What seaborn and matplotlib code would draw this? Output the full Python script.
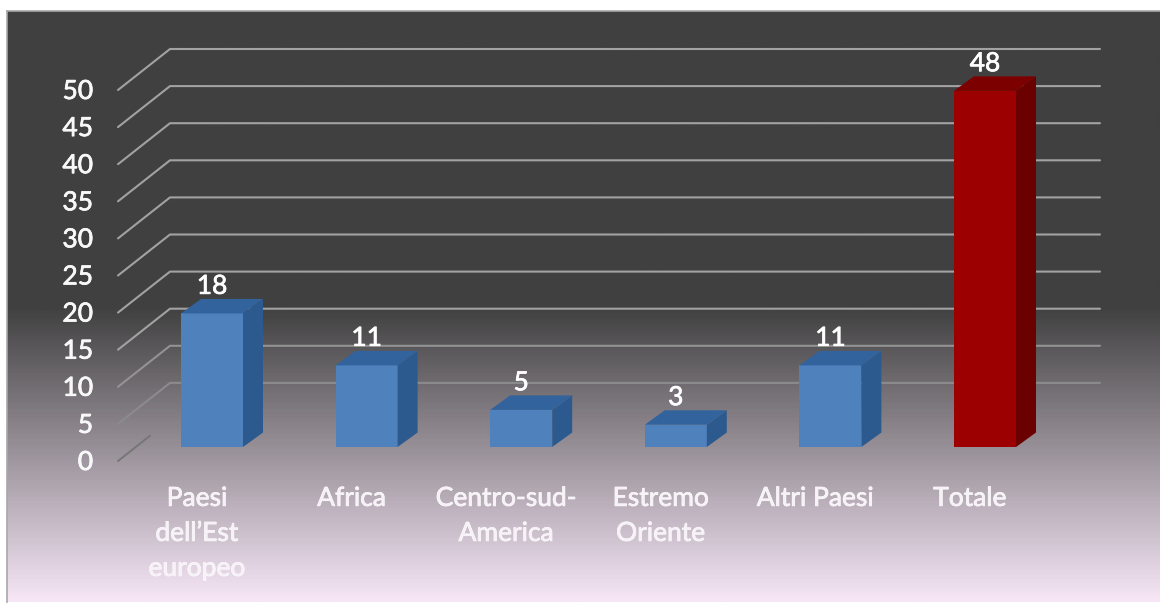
import numpy as np
import seaborn as sns
import matplotlib
matplotlib.use('Agg')
import matplotlib.pyplot as plt
import matplotlib.patheffects as pe
from matplotlib.colors import LinearSegmentedColormap
from matplotlib.patches import Polygon
from matplotlib.transforms import Affine2D

# values of the chart
categories = ['Paesi\ndell\u2019Est\neuropeo', 'Africa', 'Centro-sud-\nAmerica', 'Estremo\nOriente', 'Altri Paesi', 'Totale']
values = [18, 11, 5, 3, 11, 48]
y_ticks = [0, 5, 10, 15, 20, 25, 30, 35, 40, 45, 50]

front_colors = ['#4f81bd', '#4f81bd', '#4f81bd', '#4f81bd', '#4f81bd', '#9c0000']
side_colors = ['#2d5a8e', '#2d5a8e', '#2d5a8e', '#2d5a8e', '#2d5a8e', '#6a0000']
top_colors = ['#33639c', '#33639c', '#33639c', '#33639c', '#33639c', '#7c0000']

# picture size and scales, in pixels
W, H = 1160, 603
px_per_cat = 154.6
px_per_unit = 7.42
first_center = 212
base_y = 447
depth_x, depth_y = 20, 14.5

sns.set_style('white')
plt.rcParams['font.family'] = ['Lato', 'DejaVu Sans']

fig = plt.figure(figsize=(W / 100, H / 100), dpi=100, facecolor='white')

# background panel: dark on top, fading to light pink at the bottom
bg = fig.add_axes([7 / W, 1 / H, (W - 7) / W, 591 / H], zorder=0)
cmap = LinearSegmentedColormap.from_list('bg', [(0, '#404040'), (0.5, '#404040'), (1, '#f6e6f6')])
bg.imshow(np.linspace(0, 1, 400).reshape(-1, 1), aspect='auto', cmap=cmap, vmin=0, vmax=1)
bg.set_xticks([])
bg.set_yticks([])
for name in ['right', 'bottom']:
    bg.spines[name].set_visible(False)
for name in ['left', 'top']:
    bg.spines[name].set_color('#a8a8a8')
    bg.spines[name].set_linewidth(1.2)

left = first_center - px_per_cat / 2
top_px = 20
ax = fig.add_axes([left / W, (H - base_y) / H, 6 * px_per_cat / W, (base_y - top_px) / H], zorder=1)
ax.patch.set_alpha(0)

sns.barplot(x=list(range(len(values))), y=values, hue=list(range(len(values))),
            palette=front_colors, saturation=1, width=62 / px_per_cat,
            legend=False, ax=ax, zorder=3, linewidth=0)
ax.set_xlim(-0.5, 5.5)
ax.set_ylim(0, (base_y - top_px) / px_per_unit)
sns.despine(ax=ax, left=True, bottom=True)


def px_x(x):
    return (x - first_center) / px_per_cat


# walls: gridlines on the back and slanted lines on the left
wall_x = px_x(170)
end_x = px_x(1100)
front_x = px_x(118)
back_shift = (base_y - 420) / px_per_unit
front_shift = (base_y - 461) / px_per_unit
for t in y_ticks:
    if t == 0:
        # the floor line nearly vanishes into the gradient, only the start shows
        mid_x = px_x(150)
        mid_y = front_shift + (back_shift - front_shift) * (150 - 118) / (170 - 118)
        ax.plot([front_x, mid_x], [front_shift, mid_y], color='#767676', lw=1.4, clip_on=False, zorder=1)
        continue
    c = '#8b8b8b' if t == 5 else '#939393' if t == 10 else '#a2a2a2'
    ax.plot([front_x, wall_x, end_x], [t + front_shift, t + back_shift, t + back_shift],
            color=c, lw=1.5, clip_on=False, zorder=1, solid_joinstyle='round')

# fake 3d: side and top faces of each bar
ddx = depth_x / px_per_cat
ddy = depth_y / px_per_unit
bars = sorted(ax.patches, key=lambda b: b.get_x())
for bar, side, top in zip(bars, side_colors, top_colors):
    x0 = bar.get_x()
    x1 = x0 + bar.get_width()
    h = bar.get_height()
    ax.add_patch(Polygon([(x1, 0), (x1 + ddx, ddy), (x1 + ddx, h + ddy), (x1, h)],
                         facecolor=side, edgecolor='none', zorder=3, clip_on=False))
    ax.add_patch(Polygon([(x0, h), (x0 + ddx, h + ddy), (x1 + ddx, h + ddy), (x1, h)],
                         facecolor=top, edgecolor='none', zorder=3, clip_on=False))

thick = [pe.withStroke(linewidth=0.5, foreground='white')]

# value labels
for i, v in enumerate(values):
    ax.annotate(str(v), (i, v), xytext=(0, 19.5), textcoords='offset points',
                ha='center', va='center', color='white', fontsize=19, zorder=5,
                path_effects=thick)

# tick labels
ax.set_yticks(y_ticks)
ax.set_yticklabels([str(t) for t in y_ticks], color='#f8f8f8', fontsize=19, path_effects=thick)
ax.tick_params(axis='y', length=0, pad=30)
for label in ax.get_yticklabels():
    label.set_transform(label.get_transform() + Affine2D().translate(0, -13))

ax.set_xticks(range(len(categories)))
ax.set_xticklabels(categories, color='#f7f2f7', fontsize=19, linespacing=1.5, path_effects=thick)
ax.tick_params(axis='x', length=0, pad=28)
for label in ax.get_xticklabels():
    label.set_transform(label.get_transform() + Affine2D().translate(-15, 0))

fig.savefig('out.png', dpi=100)
